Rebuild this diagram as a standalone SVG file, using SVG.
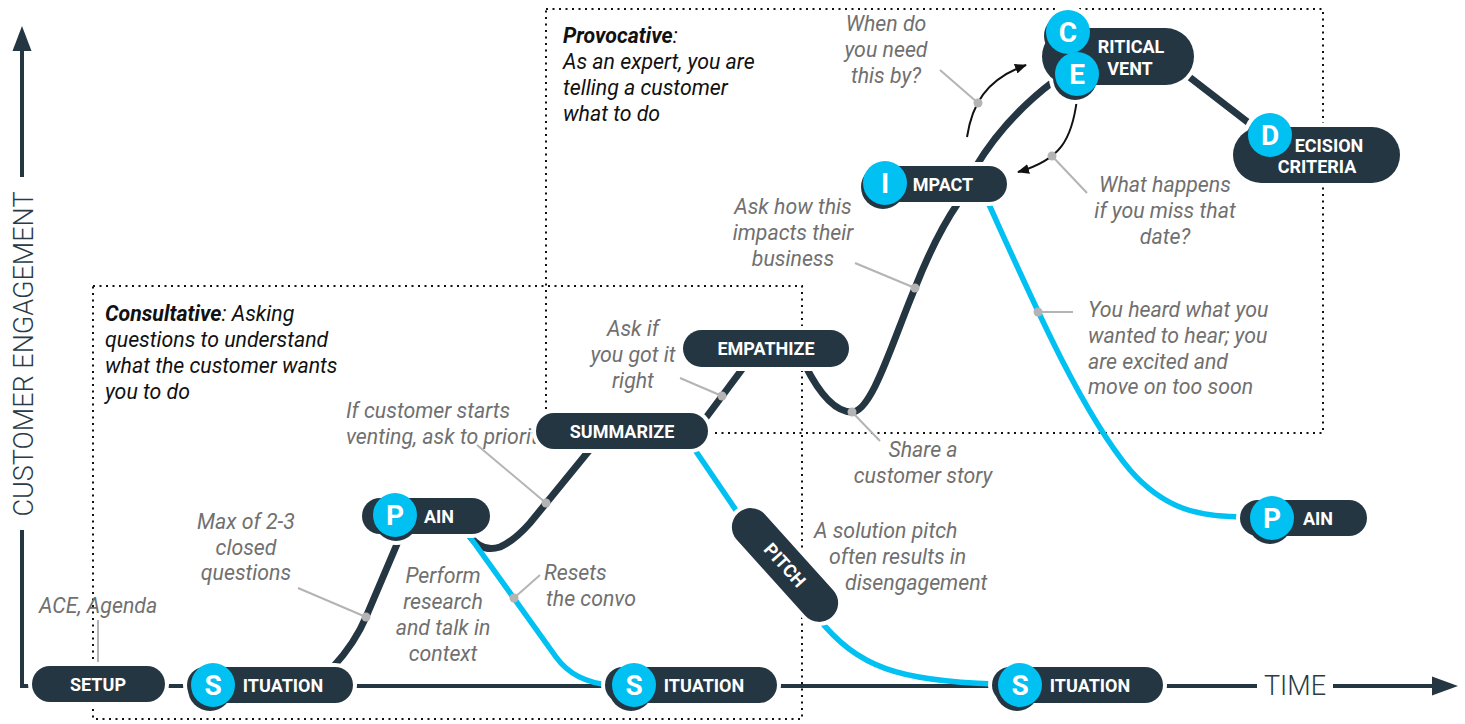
<svg xmlns="http://www.w3.org/2000/svg" width="1465" height="724" viewBox="0 0 1465 724">
  <defs>
    <style>
      .box { fill: none; stroke: #111; stroke-width: 2; stroke-dasharray: 2 4.5; }
      .axis { fill: none; stroke: #243642; stroke-width: 4; }
      .axtxt { font-family: Roboto, "Liberation Sans", sans-serif; font-weight: 300; font-size: 27px; fill: #2a3b47; }
      .dk { fill: none; stroke: #243642; stroke-width: 7; }
      .cy { fill: none; stroke: #00c1f1; stroke-width: 5.5; }
      .ldr { fill: none; stroke: #b4b4b4; stroke-width: 2; }
      .pt { fill: #b4b4b4; }
      .arw { fill: none; stroke: #111; stroke-width: 2; marker-end: url(#ah); }
      .halo { fill: #fff; stroke: #fff; stroke-width: 8; }
      .pill { fill: #243642; }
      .badge { fill: #00c1f1; }
      .shade { fill: #243642; }
      .nl { font-family: Roboto, "Liberation Sans", sans-serif; font-weight: 700; font-size: 18px; fill: #fff; text-anchor: middle; }
      .bl { font-family: Roboto, "Liberation Sans", sans-serif; font-weight: 700; font-size: 28px; fill: #fff; text-anchor: middle; }
      .note { font-family: Roboto, "Liberation Sans", sans-serif; font-style: italic; font-size: 21.3px; fill: #707070; }
      .mid { text-anchor: middle; }
      .lead { font-family: Roboto, "Liberation Sans", sans-serif; font-style: italic; font-size: 21.3px; fill: #111; }
    </style>
    <marker id="ah" viewBox="0 0 12 10" refX="11" refY="5" markerWidth="12" markerHeight="10" markerUnits="userSpaceOnUse" orient="auto">
      <path d="M0 0 L12 5 L0 10 Z" fill="#111"/>
    </marker>
  </defs>

  <!-- approach zones -->
  <g id="zones">
    <rect class="box" x="93" y="286" width="709" height="433"/>
    <rect class="box" x="546" y="9" width="777" height="424"/>
  </g>

  <!-- zone descriptions and side notes -->
  <g id="notes">
    <text class="lead" x="105" y="321"><tspan font-weight="700">Consultative</tspan>: Asking</text>
    <text class="lead" x="105" y="347">questions to understand</text>
    <text class="lead" x="105" y="373">what the customer wants</text>
    <text class="lead" x="105" y="399">you to do</text>

    <text class="lead" x="563" y="43"><tspan font-weight="700">Provocative</tspan>:</text>
    <text class="lead" x="563" y="69">As an expert, you are</text>
    <text class="lead" x="563" y="95">telling a customer</text>
    <text class="lead" x="563" y="121">what to do</text>

    <text class="note" x="39" y="613">ACE, Agenda</text>

    <text class="note mid" x="246" y="529">Max of 2-3</text>
    <text class="note mid" x="246" y="555">closed</text>
    <text class="note mid" x="246" y="580">questions</text>

    <text class="note mid" x="443" y="583">Perform</text>
    <text class="note mid" x="443" y="609">research</text>
    <text class="note mid" x="443" y="635">and talk in</text>
    <text class="note mid" x="443" y="661">context</text>

    <text class="note" x="544" y="580">Resets</text>
    <text class="note" x="546" y="606">the convo</text>

    <text class="note" x="346" y="418">If customer starts</text>
    <text class="note" x="346" y="444">venting, ask to prioritize</text>

    <text class="note mid" x="633" y="336">Ask if</text>
    <text class="note mid" x="633" y="362">you got it</text>
    <text class="note mid" x="633" y="388">right</text>

    <text class="note mid" x="923" y="457">Share a</text>
    <text class="note mid" x="923" y="483">customer story</text>

    <text class="note" x="814" y="538">A solution pitch</text>
    <text class="note" x="829" y="564">often results in</text>
    <text class="note" x="845" y="590">disengagement</text>

    <text class="note mid" x="793" y="214">Ask how this</text>
    <text class="note mid" x="793" y="240">impacts their</text>
    <text class="note mid" x="793" y="266">business</text>

    <text class="note mid" x="886" y="31">When do</text>
    <text class="note mid" x="886" y="57">you need</text>
    <text class="note mid" x="886" y="83">this by?</text>

    <text class="note mid" x="1165" y="192">What happens</text>
    <text class="note mid" x="1165" y="218">if you miss that</text>
    <text class="note mid" x="1165" y="244">date?</text>

    <text class="note" x="1088" y="317">You heard what you</text>
    <text class="note" x="1088" y="343">wanted to hear; you</text>
    <text class="note" x="1088" y="369">are excited and</text>
    <text class="note" x="1088" y="394">move on too soon</text>
  </g>

  <!-- axes, paths, leaders -->
  <g id="connectors">
    <path class="axis" d="M22 50 L22 177"/>
    <path class="axis" d="M22 530 L22 686 L1257 686"/>
    <path class="axis" d="M1333 686 L1434 686"/>
    <polygon points="22,26 12.5,51 31.5,51" fill="#243642"/>
    <polygon points="1458,686 1432,676.5 1432,695.5" fill="#243642"/>
    <text class="axtxt" transform="translate(33 354) rotate(-90)" text-anchor="middle">CUSTOMER  ENGAGEMENT</text>
    <text class="axtxt" x="1295" y="695" text-anchor="middle">TIME</text>

    <!-- engaged path -->
    <path class="dk" d="M333 667 Q355 643 366 617 L400 537"/>
    <path class="dk" d="M470 536 Q482 553 500 547 Q514 541 530 523 L592 447"/>
    <path class="dk" d="M702 423 L746 364"/>
    <path class="dk" d="M805 365 C820 395 835 412 852 412 C872 412 893 340 915 288 C930 250 945 222 958 203"/>
    <path class="dk" d="M975 168 Q1005 118 1054 81"/>
    <path class="dk" d="M1188 76 L1254 127"/>

    <!-- disengaged path -->
    <path class="cy" d="M470 537 L556 657 Q574 682 610 685"/>
    <path class="cy" d="M693 447 L744 522"/>
    <path class="cy" d="M818 618 C858 668 900 681 995 684"/>
    <path class="cy" d="M987 200 C1030 295 1080 410 1130 470 C1165 510 1200 517 1245 517"/>

    <!-- loop arrows around the critical event -->
    <path class="arw" d="M967 137 C972 105 985 80 1026 65"/>
    <path class="arw" d="M1077 99 C1072 140 1060 160 1018 172"/>

    <!-- note leaders -->
    <path class="ldr" d="M98 620 L98 664"/>
    <path class="ldr" d="M298 588 L366 617"/>
    <path class="ldr" d="M477 445 L546 503"/>
    <path class="ldr" d="M540 575 L514 598"/>
    <path class="ldr" d="M680 378 L722 396"/>
    <path class="ldr" d="M852 412 L880 441"/>
    <path class="ldr" d="M855 263 L915 288"/>
    <path class="ldr" d="M940 70 L978 103"/>
    <path class="ldr" d="M1052 156 L1087 193"/>
    <path class="ldr" d="M1038 312 L1073 312"/>
    <circle class="pt" cx="366" cy="617" r="4.5"/>
    <circle class="pt" cx="546" cy="503" r="4.5"/>
    <circle class="pt" cx="514" cy="598" r="4.5"/>
    <circle class="pt" cx="722" cy="396" r="4.5"/>
    <circle class="pt" cx="852" cy="412" r="4.5"/>
    <circle class="pt" cx="915" cy="288" r="4.5"/>
    <circle class="pt" cx="978" cy="103" r="4.5"/>
    <circle class="pt" cx="1052" cy="156" r="4.5"/>
    <circle class="pt" cx="1038" cy="312" r="4.5"/>
  </g>

  <!-- stage nodes -->
  <g id="node-setup">
    <rect class="halo" x="32" y="666" width="133" height="36" rx="18"/>
    <rect class="pill" x="32" y="666" width="133" height="36" rx="18"/>
    <text class="nl" x="98" y="690.5">SETUP</text>
  </g>

  <g id="node-situation-1">
    <rect class="halo" x="187" y="667" width="166" height="36" rx="18"/>
    <circle class="halo" cx="210" cy="689" r="22"/>
    <rect class="pill" x="187" y="667" width="166" height="36" rx="18"/>
    <circle class="shade" cx="210" cy="689" r="22"/>
    <circle class="badge" cx="213" cy="685" r="22"/>
    <text class="bl" x="213" y="695">S</text>
    <text class="nl" x="283" y="691.5">ITUATION</text>
  </g>

  <g id="node-pain-1">
    <rect class="halo" x="362" y="498" width="128" height="36" rx="18"/>
    <circle class="halo" cx="396" cy="519" r="22"/>
    <rect class="pill" x="362" y="498" width="128" height="36" rx="18"/>
    <circle class="shade" cx="396" cy="519" r="22"/>
    <circle class="badge" cx="395" cy="515" r="22"/>
    <text class="bl" x="395" y="525">P</text>
    <text class="nl" x="439" y="522.5">AIN</text>
  </g>

  <g id="node-summarize">
    <rect class="halo" x="536" y="413" width="172" height="36" rx="18"/>
    <rect class="pill" x="536" y="413" width="172" height="36" rx="18"/>
    <text class="nl" x="622" y="437.5">SUMMARIZE</text>
  </g>

  <g id="node-empathize">
    <rect class="halo" x="683" y="330" width="166" height="37" rx="18.5"/>
    <rect class="pill" x="683" y="330" width="166" height="37" rx="18.5"/>
    <text class="nl" x="766" y="355">EMPATHIZE</text>
  </g>

  <g id="node-pitch" transform="translate(785 565) rotate(48)">
    <rect class="halo" x="-70" y="-19" width="140" height="38" rx="19"/>
    <rect class="pill" x="-70" y="-19" width="140" height="38" rx="19"/>
    <text class="nl" x="0" y="6.5">PITCH</text>
  </g>

  <g id="node-situation-2">
    <rect class="halo" x="605" y="667" width="172" height="36" rx="18"/>
    <circle class="halo" cx="631" cy="689" r="22"/>
    <rect class="pill" x="605" y="667" width="172" height="36" rx="18"/>
    <circle class="shade" cx="631" cy="689" r="22"/>
    <circle class="badge" cx="634" cy="685" r="22"/>
    <text class="bl" x="634" y="695">S</text>
    <text class="nl" x="704" y="691.5">ITUATION</text>
  </g>

  <g id="node-situation-3">
    <rect class="halo" x="992" y="667" width="171" height="36" rx="18"/>
    <circle class="halo" cx="1017" cy="689" r="22"/>
    <rect class="pill" x="992" y="667" width="171" height="36" rx="18"/>
    <circle class="shade" cx="1017" cy="689" r="22"/>
    <circle class="badge" cx="1020" cy="685" r="22"/>
    <text class="bl" x="1020" y="695">S</text>
    <text class="nl" x="1090" y="691.5">ITUATION</text>
  </g>

  <g id="node-impact">
    <rect class="halo" x="863" y="166" width="144" height="36" rx="18"/>
    <circle class="halo" cx="883" cy="187" r="22"/>
    <rect class="pill" x="863" y="166" width="144" height="36" rx="18"/>
    <circle class="shade" cx="883" cy="187" r="22"/>
    <circle class="badge" cx="885" cy="183" r="22"/>
    <text class="bl" x="885" y="193">I</text>
    <text class="nl" x="943" y="190.5">MPACT</text>
  </g>

  <g id="node-critical-event">
    <rect class="halo" x="1042" y="28" width="152" height="57" rx="28.5"/>
    <circle class="halo" cx="1068" cy="32" r="22"/>
    <circle class="halo" cx="1075" cy="78" r="22"/>
    <rect class="pill" x="1042" y="28" width="152" height="57" rx="28.5"/>
    <circle class="shade" cx="1066" cy="36" r="22"/>
    <circle class="badge" cx="1068" cy="32" r="22"/>
    <circle class="shade" cx="1075" cy="78" r="22"/>
    <circle class="badge" cx="1077" cy="74" r="22"/>
    <text class="bl" x="1068" y="42">C</text>
    <text class="bl" x="1077" y="84">E</text>
    <text class="nl" x="1131" y="53">RITICAL</text>
    <text class="nl" x="1130" y="75">VENT</text>
  </g>

  <g id="node-decision-criteria">
    <rect class="halo" x="1233" y="127" width="167" height="56" rx="28"/>
    <circle class="halo" cx="1270" cy="135" r="22"/>
    <rect class="pill" x="1233" y="127" width="167" height="56" rx="28"/>
    <circle class="shade" cx="1268" cy="139" r="22"/>
    <circle class="badge" cx="1270" cy="135" r="22"/>
    <text class="bl" x="1270" y="145">D</text>
    <text class="nl" x="1329" y="152">ECISION</text>
    <text class="nl" x="1317" y="173">CRITERIA</text>
  </g>

  <g id="node-pain-2">
    <rect class="halo" x="1240" y="500" width="127" height="36" rx="18"/>
    <circle class="halo" cx="1270" cy="522" r="22"/>
    <rect class="pill" x="1240" y="500" width="127" height="36" rx="18"/>
    <circle class="shade" cx="1270" cy="522" r="22"/>
    <circle class="badge" cx="1272" cy="518" r="22"/>
    <text class="bl" x="1272" y="528">P</text>
    <text class="nl" x="1318" y="524.5">AIN</text>
  </g>
</svg>
